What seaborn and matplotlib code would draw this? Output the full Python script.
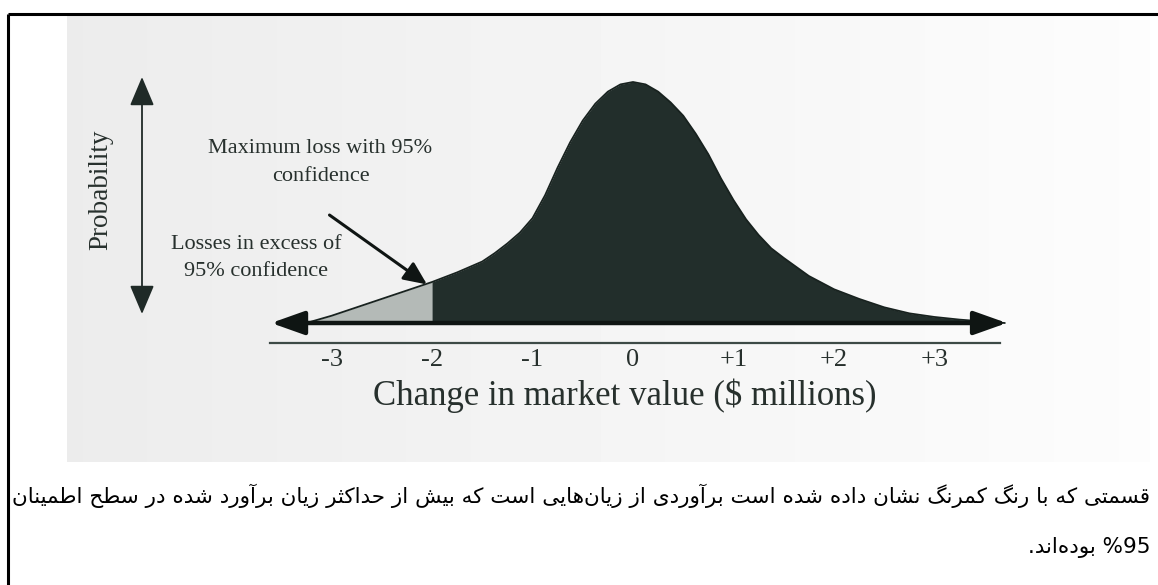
import numpy as np
import pandas as pd
import matplotlib
matplotlib.use("Agg")
import matplotlib.pyplot as plt
import seaborn as sns

# ---------------- data ----------------
x_values = [-3.25, -3.0, -2.75, -2.5, -2.25, -2.0, -1.75, -1.5, -1.375, -1.25,
            -1.125, -1.0, -0.875, -0.75, -0.625, -0.5, -0.375, -0.25, -0.125,
            0.0, 0.125, 0.25, 0.375, 0.5, 0.625, 0.75, 0.875, 1.0, 1.125,
            1.25, 1.375, 1.5, 1.75, 2.0, 2.25, 2.5, 2.75, 3.0, 3.25, 3.5, 3.7]
density = [0.0, 0.03, 0.065, 0.10, 0.135, 0.17, 0.21, 0.255, 0.29, 0.33,
           0.375, 0.435, 0.53, 0.645, 0.75, 0.84, 0.91, 0.96, 0.99,
           1.0, 0.99, 0.96, 0.915, 0.86, 0.785, 0.70, 0.60, 0.51, 0.43,
           0.365, 0.31, 0.27, 0.195, 0.14, 0.10, 0.065, 0.04, 0.025, 0.014, 0.006, 0.0]
tick_positions = [-3, -2, -1, 0, 1, 2, 3]
tick_labels = ["-3", "-2", "-1", "0", "+1", "+2", "+3"]
var_cutoff = -2.0
x_label = "Change in market value ($ millions)"
y_label = "Probability"
note_max = ["Maximum loss with 95%", "confidence"]
note_excess = ["Losses in excess of", "95% confidence"]
caption_line1 = ("قسمتی که با رنگ کمرنگ نشان داده شده است برآوردی از زیان‌هایی است "
                 "که بیش از حداکثر زیان برآورد شده در سطح اطمینان")
caption_line2 = "%95 بوده‌اند."

# ---------------- minimal Persian shaping / RTL ordering ----------------
FORMS = {
    'ا': ('\uFE8D', '\uFE8E', None, None),
    'آ': ('\uFE81', '\uFE82', None, None),
    'ب': ('\uFE8F', '\uFE90', '\uFE91', '\uFE92'),
    'پ': ('\uFB56', '\uFB57', '\uFB58', '\uFB59'),
    'ت': ('\uFE95', '\uFE96', '\uFE97', '\uFE98'),
    'ث': ('\uFE99', '\uFE9A', '\uFE9B', '\uFE9C'),
    'ج': ('\uFE9D', '\uFE9E', '\uFE9F', '\uFEA0'),
    'چ': ('\uFB7A', '\uFB7B', '\uFB7C', '\uFB7D'),
    'ح': ('\uFEA1', '\uFEA2', '\uFEA3', '\uFEA4'),
    'خ': ('\uFEA5', '\uFEA6', '\uFEA7', '\uFEA8'),
    'د': ('\uFEA9', '\uFEAA', None, None),
    'ذ': ('\uFEAB', '\uFEAC', None, None),
    'ر': ('\uFEAD', '\uFEAE', None, None),
    'ز': ('\uFEAF', '\uFEB0', None, None),
    'ژ': ('\uFB8A', '\uFB8B', None, None),
    'س': ('\uFEB1', '\uFEB2', '\uFEB3', '\uFEB4'),
    'ش': ('\uFEB5', '\uFEB6', '\uFEB7', '\uFEB8'),
    'ص': ('\uFEB9', '\uFEBA', '\uFEBB', '\uFEBC'),
    'ض': ('\uFEBD', '\uFEBE', '\uFEBF', '\uFEC0'),
    'ط': ('\uFEC1', '\uFEC2', '\uFEC3', '\uFEC4'),
    'ظ': ('\uFEC5', '\uFEC6', '\uFEC7', '\uFEC8'),
    'ع': ('\uFEC9', '\uFECA', '\uFECB', '\uFECC'),
    'غ': ('\uFECD', '\uFECE', '\uFECF', '\uFED0'),
    'ف': ('\uFED1', '\uFED2', '\uFED3', '\uFED4'),
    'ق': ('\uFED5', '\uFED6', '\uFED7', '\uFED8'),
    'ک': ('\uFB8E', '\uFB8F', '\uFB90', '\uFB91'),
    'گ': ('\uFB92', '\uFB93', '\uFB94', '\uFB95'),
    'ل': ('\uFEDD', '\uFEDE', '\uFEDF', '\uFEE0'),
    'م': ('\uFEE1', '\uFEE2', '\uFEE3', '\uFEE4'),
    'ن': ('\uFEE5', '\uFEE6', '\uFEE7', '\uFEE8'),
    'و': ('\uFEED', '\uFEEE', None, None),
    'ه': ('\uFEE9', '\uFEEA', '\uFEEB', '\uFEEC'),
    'ی': ('\uFBFC', '\uFBFD', '\uFBFE', '\uFBFF'),
}


def shape(s):
    out = []
    n = len(s)
    for i, c in enumerate(s):
        if c == '\u200c':
            continue
        if c not in FORMS:
            out.append(c)
            continue
        p = s[i - 1] if i > 0 else ''
        q = s[i + 1] if i + 1 < n else ''
        jp = p in FORMS and FORMS[p][2] is not None
        jn = FORMS[c][2] is not None and q in FORMS
        iso, fin, ini, med = FORMS[c]
        out.append(med if (jp and jn) else fin if jp else ini if jn else iso)
    return ''.join(out)


def visual(s):
    shaped = shape(s)
    runs = []
    for ch in shaped:
        ltr = ch.isascii() and (ch.isalnum() or ch == '%')
        if runs and runs[-1][0] == ltr:
            runs[-1][1].append(ch)
        else:
            runs.append((ltr, [ch]))
    parts = []
    for ltr, chars in reversed(runs):
        parts.append(''.join(chars) if ltr else ''.join(reversed(chars)))
    return ''.join(parts)


# ---------------- figure ----------------
sns.set_theme(style="white")
plt.rcParams['font.family'] = ['DejaVu Sans']

W, H = 1158, 585
fig = plt.figure(figsize=(W / 100, H / 100), dpi=100)
fig.patch.set_facecolor("white")

# background / decoration axes in pixel coordinates
bg = fig.add_axes([0, 0, 1, 1])
bg.set_xlim(0, W)
bg.set_ylim(H, 0)
bg.axis("off")
grad = np.linspace(0.925, 0.99, 200)[None, :]
bg.imshow(grad, cmap="gray", vmin=0, vmax=1, extent=[67, 1150, 462, 15],
          aspect="auto", zorder=0, interpolation="bilinear")
bg.set_xlim(0, W)
bg.set_ylim(H, 0)
# frame lines
bg.plot([8, W], [14, 14], color="black", lw=2.2, solid_capstyle="butt", zorder=5)
bg.plot([8, 8], [14, H], color="black", lw=2.2, solid_capstyle="butt", zorder=5)

serif = "Liberation Serif"
txt_col = "#27302d"

# probability arrow + label
bg.annotate("", xy=(142, 77), xytext=(142, 314),
            arrowprops=dict(arrowstyle="<|-|>,head_length=0.9,head_width=0.38",
                            mutation_scale=20, lw=1.3, color="#1f2a27",
                            shrinkA=0, shrinkB=0), zorder=4)
bg.text(101, 190, y_label, rotation=90, ha="center", va="center",
        fontsize=19.5, family=serif, color=txt_col, zorder=4)

# caption (Persian)
cap1 = bg.text(1150, 496, visual(caption_line1), ha="right", va="center",
               fontsize=17, family="DejaVu Sans", color="black", zorder=4)
fig.canvas.draw()
w1 = cap1.get_window_extent().width
fs = 17 * 1138 / w1
cap1.set_fontsize(fs)
bg.text(1150, 547, visual(caption_line2), ha="right", va="center",
        fontsize=fs, family="DejaVu Sans", color="black", zorder=4)

# main data axes
ax = fig.add_axes([231 / W, (H - 467.6) / H, 804 / W, 409.7 / H])
ax.patch.set_alpha(0)
ax.set_xlim(-4, 4)
ax.set_ylim(-0.6, 1.1)

df = pd.DataFrame({"x": x_values, "density": density})
tail = df[df["x"] <= var_cutoff]
body = df[df["x"] >= var_cutoff]
ax.fill_between(tail["x"], 0, tail["density"], color="#b4bab7", lw=0, zorder=2)
ax.fill_between(body["x"], 0, body["density"], color="#222e2b", lw=0, zorder=2)
sns.lineplot(data=df, x="x", y="density", ax=ax, color="#18221f", lw=1.3,
             zorder=3, sort=True)

# horizontal double arrow (baseline)
ax.annotate("", xy=(3.72, 0), xytext=(-3.6, 0),
            arrowprops=dict(arrowstyle="<|-|>,head_length=1.35,head_width=0.48",
                            mutation_scale=15, lw=3.2, color="#0f1513",
                            shrinkA=0, shrinkB=0), zorder=4)

# axis line with tick labels
ax.spines["bottom"].set_position(("data", -0.083))
ax.spines["bottom"].set_bounds(-3.61, 3.65)
ax.spines["bottom"].set_color("#3d4a46")
ax.spines["bottom"].set_linewidth(1.6)
for s in ["top", "left", "right"]:
    ax.spines[s].set_visible(False)
ax.set_yticks([])
ax.set_xticks(tick_positions)
ax.set_xticklabels(tick_labels, family=serif, fontsize=19, color=txt_col)
ax.tick_params(axis="x", length=0, pad=4)
ax.set_xlabel("")
ax.set_ylabel("")
ax.text(-0.08, -0.30, x_label, ha="center", va="center", family=serif,
        fontsize=25, color=txt_col)

# annotations
ax.text(-3.11, 0.726, note_max[0], ha="center", va="center", family=serif,
        fontsize=16, color=txt_col)
ax.text(-3.11, 0.606, note_max[1], ha="center", va="center", family=serif,
        fontsize=16, color=txt_col)
ax.text(-3.75, 0.324, note_excess[0], ha="center", va="center", family=serif,
        fontsize=16, color=txt_col, clip_on=False)
ax.text(-3.75, 0.212, note_excess[1], ha="center", va="center", family=serif,
        fontsize=16, color=txt_col, clip_on=False)
ax.annotate("", xy=(-2.05, 0.16), xytext=(-3.02, 0.448),
            arrowprops=dict(arrowstyle="-|>,head_length=1.0,head_width=0.45",
                            mutation_scale=14, lw=2.2, color="#0f1513",
                            shrinkA=0, shrinkB=0), zorder=5)

fig.savefig("out.png", dpi=100, facecolor="white")
